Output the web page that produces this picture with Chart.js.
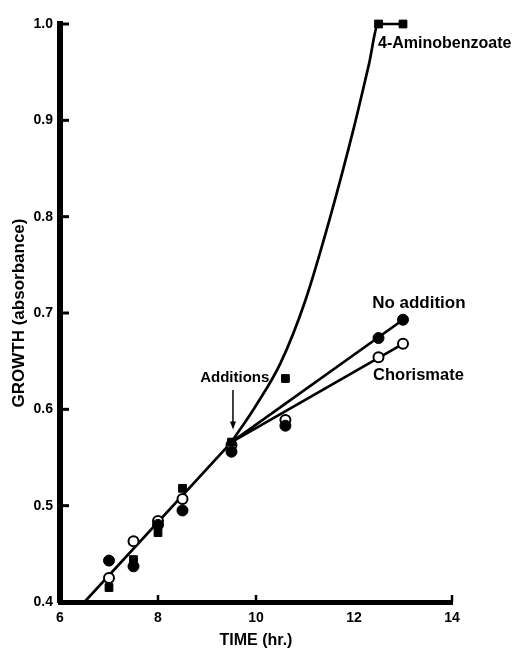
<!DOCTYPE html>
<html>
<head>
<meta charset="utf-8">
<script src="https://cdn.jsdelivr.net/npm/chart.js@4.4.1/dist/chart.umd.min.js"></script>
<style>
  html, body { margin: 0; padding: 0; background: #fff; }
  #wrap { width: 521px; height: 649px; }
</style>
</head>
<body>
<div id="wrap"><canvas id="chart" width="521" height="649"></canvas></div>
<script>
// sampling times (hr.) shared by the three cultures
const times = [7, 7.5, 8, 8.5, 9.5, 10.6, 12.5, 13.0];
const noAddition = [0.443, 0.437, 0.480, 0.495, 0.556, 0.583, 0.674, 0.693];
const chorismate = [0.425, 0.463, 0.484, 0.507, 0.563, 0.589, 0.654, 0.668];
const aminobenzoate = [0.415, 0.444, 0.472, 0.518, 0.566, 0.632, 1.0, 1.0];

// hand drawn lines
const commonFitTimes = [6.5, 9.5];
const commonFitValues = [0.4, 0.566];
const branchTimes = [9.5, 13.0];
const noAdditionFit = [0.566, 0.693];
const chorismateFit = [0.566, 0.668];
const aminoCurveTimes = [9.5, 10.0, 10.5, 11.0, 11.5, 12.0, 12.3, 12.5, 13.0];
const aminoCurveValues = [0.566, 0.604, 0.648, 0.712, 0.797, 0.893, 0.957, 1.0, 1.0];

const xTicks = [6, 8, 10, 12, 14];
const xTickMarks = [8, 10, 14];
const yTicks = [0.4, 0.5, 0.6, 0.7, 0.8, 0.9, 1.0];

const labels = [
  { text: '4-Aminobenzoate', x: 12.49, y: 0.980, size: 16 },
  { text: 'No addition', x: 12.37, y: 0.710, size: 17 },
  { text: 'Chorismate', x: 12.39, y: 0.635, size: 16.5 },
  { text: 'Additions', x: 8.86, y: 0.633, size: 15 }
];
const arrowAt = { x: 9.53, from: 0.620, to: 0.579 };

const pts = (xs, ys) => xs.map((x, i) => ({ x: x, y: ys[i] }));
const FONT = "'Liberation Sans', Arial, sans-serif";

const lineSet = (xs, ys, extra) => Object.assign({
  data: pts(xs, ys),
  showLine: true,
  borderColor: '#000',
  borderWidth: 2.7,
  pointRadius: 0,
  fill: false,
  order: 5
}, extra || {});

const inwardTicks = {
  id: 'inwardTicks',
  afterDraw(chart) {
    const { ctx, chartArea, scales } = chart;
    ctx.save();
    ctx.strokeStyle = '#000';
    ctx.lineWidth = 3;
    yTicks.forEach(v => {
      const py = scales.y.getPixelForValue(v);
      ctx.beginPath();
      ctx.moveTo(chartArea.left, py);
      ctx.lineTo(chartArea.left + 9, py);
      ctx.stroke();
    });
    ctx.lineWidth = 2.5;
    xTickMarks.forEach(v => {
      const px = scales.x.getPixelForValue(v);
      ctx.beginPath();
      ctx.moveTo(px, chartArea.bottom);
      ctx.lineTo(px, chartArea.bottom - 7);
      ctx.stroke();
    });
    ctx.restore();
  }
};

const notes = {
  id: 'notes',
  afterDraw(chart) {
    const { ctx, scales } = chart;
    ctx.save();
    ctx.fillStyle = '#000';
    ctx.textAlign = 'left';
    ctx.textBaseline = 'middle';
    labels.forEach(l => {
      ctx.font = 'bold ' + l.size + 'px ' + FONT;
      ctx.fillText(l.text, scales.x.getPixelForValue(l.x), scales.y.getPixelForValue(l.y));
    });
    const ax = scales.x.getPixelForValue(arrowAt.x);
    const ay1 = scales.y.getPixelForValue(arrowAt.from);
    const ay2 = scales.y.getPixelForValue(arrowAt.to);
    ctx.strokeStyle = '#000';
    ctx.lineWidth = 1.5;
    ctx.beginPath();
    ctx.moveTo(ax, ay1);
    ctx.lineTo(ax, ay2 - 6);
    ctx.stroke();
    ctx.beginPath();
    ctx.moveTo(ax - 3, ay2 - 8);
    ctx.lineTo(ax + 3, ay2 - 8);
    ctx.lineTo(ax, ay2);
    ctx.closePath();
    ctx.fill();
    ctx.restore();
  }
};

new Chart(document.getElementById('chart'), {
  type: 'scatter',
  data: {
    datasets: [
      { label: 'No addition', data: pts(times, noAddition), pointStyle: 'circle', pointRadius: 5.5,
        backgroundColor: '#000', borderColor: '#000', borderWidth: 1, order: 2, clip: false },
      { label: 'Chorismate', data: pts(times, chorismate), pointStyle: 'circle', pointRadius: 5,
        backgroundColor: '#fff', borderColor: '#000', borderWidth: 2, order: 3, clip: false },
      { label: '4-Aminobenzoate', data: pts(times, aminobenzoate), pointStyle: 'rect', pointRadius: 5.5,
        backgroundColor: '#000', borderColor: '#000', borderWidth: 1, order: 1, clip: false },
      lineSet(commonFitTimes, commonFitValues),
      lineSet(branchTimes, noAdditionFit),
      lineSet(branchTimes, chorismateFit),
      lineSet(aminoCurveTimes, aminoCurveValues, { cubicInterpolationMode: 'monotone', clip: false })
    ]
  },
  options: {
    responsive: false,
    animation: false,
    layout: { padding: { top: 24, right: 69, left: 0, bottom: 0 } },
    plugins: { legend: { display: false }, tooltip: { enabled: false } },
    scales: {
      x: {
        type: 'linear',
        min: 6,
        max: 14,
        afterFit: s => { s.height = 47; },
        afterBuildTicks: s => { s.ticks = xTicks.map(v => ({ value: v })); },
        grid: { display: false, drawTicks: false },
        border: { display: true, width: 5, color: '#000' },
        ticks: { color: '#000', padding: 8, font: { family: FONT, size: 14, weight: 'bold' } },
        title: { display: true, text: 'TIME (hr.)', color: '#000', padding: 0,
                 font: { family: FONT, size: 16, weight: 'bold', lineHeight: 1 } }
      },
      y: {
        type: 'linear',
        min: 0.4,
        max: 1.0,
        afterFit: s => { s.width = 60; },
        afterBuildTicks: s => { s.ticks = yTicks.map(v => ({ value: v })); },
        grid: { display: false, drawTicks: false },
        border: { display: true, width: 6, color: '#000' },
        ticks: { color: '#000', padding: 7, font: { family: FONT, size: 14, weight: 'bold' },
                 callback: v => v.toFixed(1) },
        title: { display: true, text: 'GROWTH (absorbance)', color: '#000', padding: { top: 9 },
                 font: { family: FONT, size: 17, weight: 'bold' } }
      }
    }
  },
  plugins: [inwardTicks, notes]
});
</script>
</body>
</html>
